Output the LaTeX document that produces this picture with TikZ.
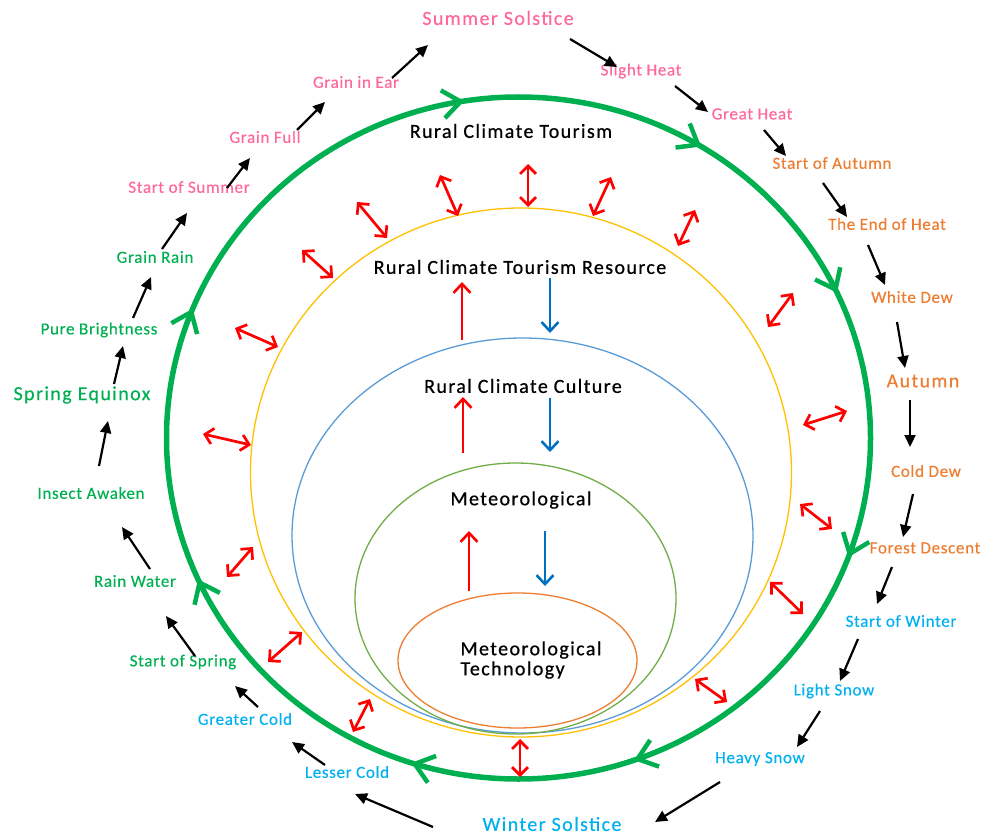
\documentclass[tikz,border=0pt]{standalone}
\usepackage{fontspec}
\setmainfont{Carlito}
\newfontfamily\smallfam{Carlito}[LetterSpace=4,FakeBold=0.3]
\newfontfamily\bigfam{Carlito}[LetterSpace=7,FakeBold=0.3]
\newfontfamily\layerfam{Carlito}[LetterSpace=7,FakeBold=0.7]
\usetikzlibrary{arrows.meta,decorations.markings}
\definecolor{cpink}{HTML}{FF6699}
\definecolor{corange}{HTML}{ED7D31}
\definecolor{cblue}{HTML}{00B0F0}
\definecolor{cgreen}{HTML}{00B050}
\definecolor{cyel}{HTML}{FFC000}
\definecolor{cell}{HTML}{5B9BD5}
\definecolor{cgell}{HTML}{70AD47}
\definecolor{carrblue}{HTML}{0070C0}
\tikzset{
  term/.style={inner sep=0pt, font=\smallfam\fontsize{17}{19}\selectfont},
  bigterm/.style={inner sep=0pt, font=\bigfam\fontsize{20}{22}\selectfont},
  layer/.style={inner sep=0pt, text=black, font=\layerfam\fontsize{20}{20}\selectfont},
  blk/.style={black, line width=2.2pt, -{Triangle[length=12pt,width=11pt]}},
  dbl/.style={red, line width=2.7pt, {Straight Barb[length=8pt,width=16pt]}-{Straight Barb[length=8pt,width=16pt]}},
  vert/.style={line width=2.6pt, -{Straight Barb[length=9pt,width=17pt]}},
  ring/.style={line width=1.3pt},
  gtip/.tip={Straight Barb[length=18pt,width=28pt,line width=4.5pt]}
}
\begin{document}
\begin{tikzpicture}[x=1pt,y=-1pt]
\useasboundingbox (0,0) rectangle (984,834);
% big green cycle
\draw[cgreen, line width=5.5pt, postaction={decorate}, decoration={markings,
  mark=at position 0.061 with {\arrow{gtip}},
  mark=at position 0.225 with {\arrow{gtip}},
  mark=at position 0.338 with {\arrow{gtip}},
  mark=at position 0.431 with {\arrow{gtip}},
  mark=at position 0.556 with {\arrow{gtip}},
  mark=at position 0.696 with {\arrow{gtip}},
  mark=at position 0.800 with {\arrow{gtip}},
  mark=at position 0.933 with {\arrow{gtip}}}]
  (518.5,438) ++(-180:352 and 341) arc[start angle=-180, end angle=180, x radius=352, y radius=341];
% nested layers
\draw[ring, cyel] (521,472.5) ellipse[x radius=270.5, y radius=264.5];
\draw[ring, cell] (522.5,535.5) ellipse[x radius=230.5, y radius=197.5];
\draw[ring, cgell] (515.5,598.5) ellipse[x radius=160.5, y radius=135.5];
\draw[ring, corange] (517.5,660.5) ellipse[x radius=119.5, y radius=67.5];
% layer labels
\node[layer] (tour) at (511,131) {Rural Climate Tourism};
\node[layer] (res) at (520,267) {Rural Climate Tourism Resource};
\node[layer] (cult) at (523,386) {Rural Climate Culture};
\node[layer] (met) at (521,500) {Meteorological};
\node[layer, align=left, font=\layerfam\fontsize{20}{20}\selectfont] (tech) at (531,660) {Meteorological\\Technology};
% vertical arrows between layers
\foreach \n/\a/\b in {1/{462,340}/{462,282},2/{463,453}/{463,397},3/{469,591}/{469,531}}{
  \coordinate (u\n s) at (\a); \coordinate (u\n e) at (\b);
  \draw[vert, red] (u\n s) -- (u\n e);}
\foreach \n/\a/\b in {1/{550,278}/{550,333},2/{550,398}/{550,452},3/{545,531}/{545,586}}{
  \coordinate (d\n s) at (\a); \coordinate (d\n e) at (\b);
  \draw[vert, carrblue] (d\n s) -- (d\n e);}
% red double arrows
\foreach \n/\a/\b in {1/{357,202}/{387,238},2/{440,175}/{458,216},3/{528,164}/{528,207},
  4/{593,216}/{611,177},5/{678,246}/{695,210},6/{768,327}/{793,293},7/{803,425}/{847,411},
  8/{800,504}/{832,529},9/{770,582}/{803,614},10/{695,679}/{727,702},11/{520,739}/{520,777},
  12/{353,732}/{370,699},13/{268,662}/{302,632},14/{227,577}/{253,547},15/{203,434}/{251,445},
  16/{235,328}/{278,347},17/{302,250}/{333,278}}{
  \coordinate (r\n a) at (\a); \coordinate (r\n b) at (\b);
  \draw[dbl] (r\n a) -- (r\n b);}
% solar terms
\node[bigterm, text=cpink] (t1) at (498,18) {Summer Solstice};
\node[term, text=cpink] (t2) at (641,71) {Slight Heat};
\node[term, text=cpink] (t3) at (752,114) {Great Heat};
\node[term, text=corange] (t4) at (832,163) {Start of Autumn};
\node[term, text=corange] (t5) at (887,224) {The End of Heat};
\node[term, text=corange] (t6) at (912,297) {White Dew};
\node[bigterm, text=corange] (t7) at (923,381) {Autumn};
\node[term, text=corange] (t8) at (926,471) {Cold Dew};
\node[term, text=corange] (t9) at (925,548) {Forest Descent};
\node[term, text=cblue] (t10) at (901,621) {Start of Winter};
\node[term, text=cblue] (t11) at (834,691) {Light Snow};
\node[term, text=cblue] (t12) at (760,759) {Heavy Snow};
\node[bigterm, text=cblue] (t13) at (552,824) {Winter Solstice};
\node[term, text=cblue] (t14) at (347,772) {Lesser Cold};
\node[term, text=cblue] (t15) at (245,719) {Greater Cold};
\node[term, text=cgreen] (t16) at (183,662) {Start of Spring};
\node[term, text=cgreen] (t17) at (135,581) {Rain Water};
\node[term, text=cgreen] (t18) at (91,493) {Insect Awaken};
\node[bigterm, text=cgreen] (t19) at (82,395) {Spring Equinox};
\node[term, text=cgreen] (t20) at (99,330) {Pure Brightness};
\node[term, text=cgreen] (t21) at (155,257) {Grain Rain};
\node[term, text=cpink] (t22) at (189,187) {Start of Summer};
\node[term, text=cpink] (t23) at (265,137) {Grain Full};
\node[term, text=cpink] (t24) at (356,82) {Grain in Ear};
% black arrows between terms
\foreach \n/\a/\b in {1/{114,384}/{123,346},2/{133,318}/{151,277},3/{162,249}/{187,213},
  4/{227,188}/{250,158},5/{297,130}/{325,102},6/{392,78}/{428,45},7/{570,39}/{617,67},
  8/{675,86}/{708,112},9/{764,130}/{786,156},10/{823,183}/{847,217},11/{868,245}/{885,285},
  12/{897,322}/{905,368},13/{910,400}/{910,447},14/{913,494}/{903,537},15/{892,567}/{877,604},
  16/{858,639}/{840,681},17/{820,711}/{797,747},18/{720,782}/{655,822},19/{433,827}/{355,794},
  20/{325,765}/{292,742},21/{258,707}/{235,686},22/{195,656}/{166,616},23/{150,569}/{122,527},
  24/{99,466}/{108,421}}{
  \coordinate (b\n s) at (\a); \coordinate (b\n e) at (\b);
  \draw[blk] (b\n s) -- (b\n e);}
\end{tikzpicture}
\end{document}
